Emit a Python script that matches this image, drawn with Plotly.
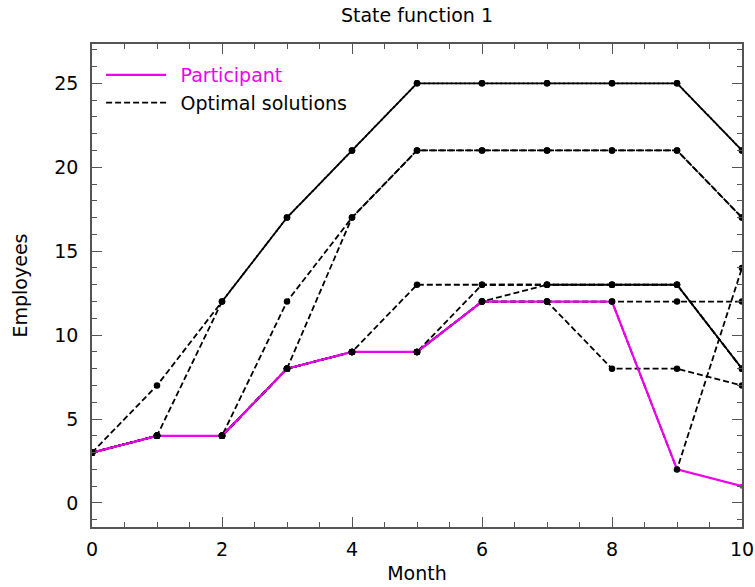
import math
import plotly.graph_objects as go

# ---- data ----
months = [0, 1, 2, 3, 4, 5, 6, 7, 8, 9, 10]
participant = [3, 4, 4, 8, 9, 9, 12, 12, 12, 2, 1]

opt_1 = [3, 7, 12, 17, 21, 25, 25, 25, 25, 25, 21]
opt_2 = [3, 4, 12, 17, 21, 25, 25, 25, 25, 25, 21]
opt_3 = [3, 4, 4, 12, 17, 21, 21, 21, 21, 21, 17]
opt_4 = [3, 4, 4, 8, 17, 21, 21, 21, 21, 21, 17]
opt_5 = [3, 4, 4, 8, 9, 13, 13, 13, 13, 13, 8]
opt_6 = [3, 4, 4, 8, 9, 9, 13, 13, 13, 13, 8]
opt_7 = [3, 4, 4, 8, 9, 9, 12, 13, 13, 13, 8]
opt_8 = [3, 4, 4, 8, 9, 9, 12, 12, 8, 8, 7]
opt_9 = [3, 4, 4, 8, 9, 9, 12, 12, 12, 12, 12]
opt_10 = [3, 4, 4, 8, 9, 9, 12, 12, 12, 2, 14]
optimal = [opt_1, opt_2, opt_3, opt_4, opt_5, opt_6, opt_7, opt_8, opt_9, opt_10]

MAGENTA = "#ee00ee"
FONT = "DejaVu Sans"
FS = 19

W, H = 755, 587
ML, MR, MT, MB = 92, 13, 44, 60
XR = [0, 10]
YR = [-1.43, 27.34]
DASH_ON, DASH_OFF = 6.0, 3.0
PERIOD = DASH_ON + DASH_OFF

# pixel scale (used only to phase-align dash patterns of overlapping paths)
sx = (W - ML - MR) / (XR[1] - XR[0])
sy = (H - MT - MB) / (YR[1] - YR[0])


def path_len(ys, k):
    return sum(math.hypot(sx * (months[i + 1] - months[i]), sy * (ys[i + 1] - ys[i]))
               for i in range(k))


def dash_with_offset(s):
    s = s % PERIOD
    if s < DASH_ON:
        return f"{DASH_ON - s:.2f}px,{DASH_OFF:.2f}px,{s:.2f}px,0px"
    return f"0px,{PERIOD - s:.2f}px,{DASH_ON:.2f}px,{s - DASH_ON:.2f}px"


def aligned_dash(ys, ref_ys, k, shift):
    target = path_len(ref_ys, k) + shift
    return dash_with_offset(target - path_len(ys, k))


base_dash = f"{DASH_ON:.0f}px,{DASH_OFF:.0f}px"
dashes = [base_dash] * len(optimal)
dashes[1] = aligned_dash(opt_2, opt_1, 2, PERIOD / 2)   # overlapping plateau at 25
dashes[3] = aligned_dash(opt_4, opt_3, 4, 2.0)          # overlapping plateau at 21
dashes[6] = aligned_dash(opt_7, opt_5, 7, PERIOD / 2)   # overlapping plateau at 13

fig = go.Figure()

for ys, d in zip(optimal, dashes):
    fig.add_trace(go.Scatter(
        x=months, y=ys, mode="lines",
        line=dict(color="black", width=1.8, dash=d, simplify=False),
        showlegend=False, hoverinfo="skip"))

fig.add_trace(go.Scatter(
    x=months, y=participant, mode="lines",
    line=dict(color=MAGENTA, width=2.2),
    name=f"\u2002<span style='color:{MAGENTA}'>Participant</span>",
    legendgroup="p", showlegend=True))
fig.add_trace(go.Scatter(
    x=months, y=participant, mode="markers",
    marker=dict(color=MAGENTA, size=5), showlegend=False))

for ys in optimal:
    fig.add_trace(go.Scatter(
        x=months, y=ys, mode="markers",
        marker=dict(color="black", size=6.5), showlegend=False))

fig.add_trace(go.Scatter(
    x=[None], y=[None], mode="lines",
    line=dict(color="black", width=1.8, dash=base_dash),
    name="\u2002Optimal solutions", legendgroup="o", showlegend=True))

axis_common = dict(
    showgrid=False, zeroline=False, automargin=False,
    showline=True, linecolor="#555555", linewidth=1.5, mirror="ticks",
    ticks="inside", ticklen=10, tickwidth=1.3, tickcolor="#555555",
    tickfont=dict(family=FONT, size=FS, color="black"),
)

fig.update_layout(
    width=W, height=H,
    margin=dict(l=ML, r=MR, t=MT, b=MB),
    plot_bgcolor="white", paper_bgcolor="white",
    font=dict(family=FONT, color="black"),
    title=dict(text="State function 1", x=0.5, xref="paper",
               y=1 - 15 / H, yref="container", yanchor="middle",
               font=dict(family=FONT, size=FS, color="black")),
    xaxis=dict(range=XR, dtick=2, tick0=0, ticklabelstandoff=4,
               minor=dict(dtick=0.5, ticks="inside", ticklen=5,
                          tickcolor="#555555", tickwidth=1.2),
               title=dict(text="Month", font=dict(family=FONT, size=FS), standoff=8),
               **axis_common),
    yaxis=dict(range=YR, dtick=5, tick0=0, ticklabelstandoff=8,
               minor=dict(dtick=1, ticks="inside", ticklen=5,
                          tickcolor="#555555", tickwidth=1.2),
               title=dict(text="Employees", font=dict(family=FONT, size=FS), standoff=22),
               **axis_common),
    legend=dict(x=0.014, y=0.975, xanchor="left", yanchor="top",
                bgcolor="rgba(0,0,0,0)", borderwidth=0, itemwidth=60,
                font=dict(family=FONT, size=FS, color="black"),
                tracegroupgap=0),
    showlegend=True,
)

fig.write_html("out.html")
